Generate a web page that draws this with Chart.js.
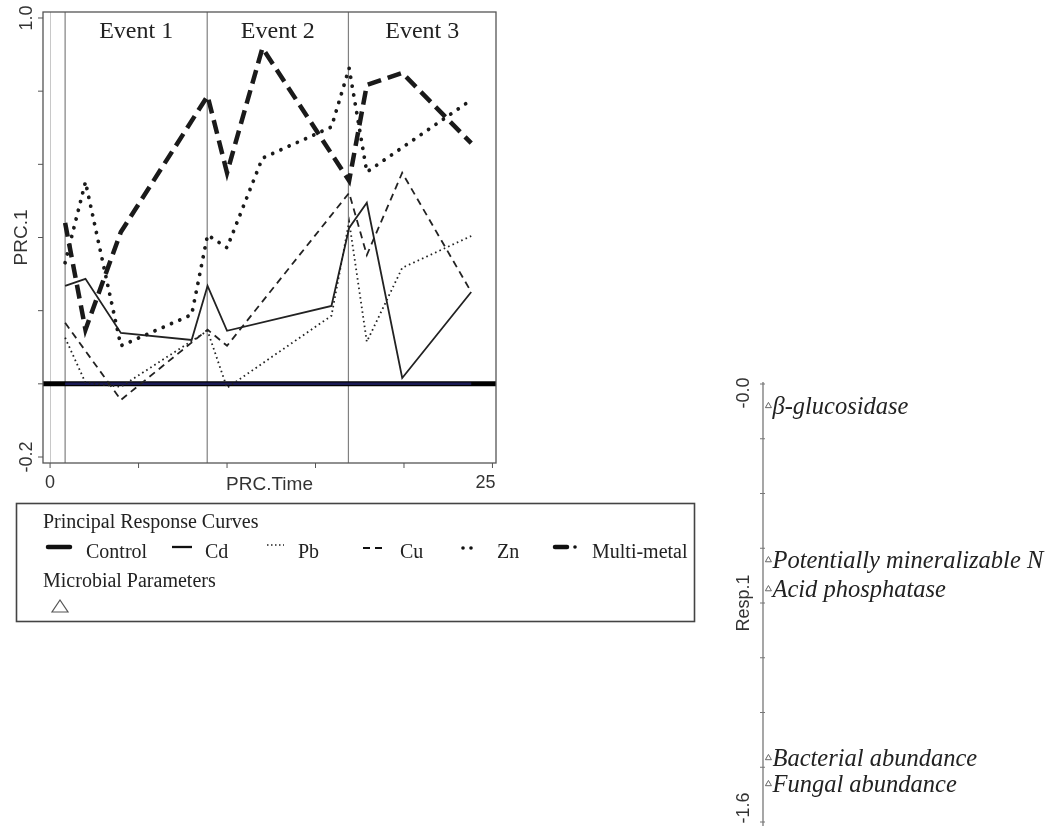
<!DOCTYPE html>
<html>
<head>
<meta charset="utf-8">
<script src="https://cdn.jsdelivr.net/npm/chart.js@4.4.0/dist/chart.umd.min.js"></script>
<style>
  body { margin: 0; background: #fff; }
  #wrap { position: relative; width: 1050px; height: 830px; }
  #prcChart { position: absolute; left: 0; top: 0; }
  #respChart { position: absolute; left: 690px; top: 360px; }
  #legend { position: absolute; left: 0; top: 490px; }
  #legend text { font-family: "Liberation Serif", "Times New Roman", serif; font-size: 20px; fill: #222; }
</style>
</head>
<body>
<div id="wrap">
  <canvas id="prcChart" width="520" height="500"></canvas>
  <canvas id="respChart" width="360" height="470"></canvas>
  <svg id="legend" width="710" height="140"></svg>
</div>
<script>
// events (PRC.Time where each event starts)
const eventNames = ["Event 1", "Event 2", "Event 3"];
const eventTimes = [0.85, 8.88, 16.86];

// principal response curves
const controlTime = [0.85, 23.8];
const controlValue = [0, 0];

const cdTime = [0.85, 2, 4, 8, 8.9, 10, 15.9, 16.9, 17.9, 19.9, 23.8];
const cdValue = [0.268, 0.287, 0.139, 0.12, 0.268, 0.145, 0.213, 0.426, 0.495, 0.016, 0.251];

const pbTime = [0.85, 2, 4, 8.9, 10, 15.9, 16.9, 17.9, 19.9, 23.8];
const pbValue = [0.126, 0.003, -0.008, 0.145, -0.011, 0.186, 0.443, 0.115, 0.317, 0.404];

const cuTime = [0.85, 4, 8.9, 10, 16.9, 17.9, 19.9, 23.8];
const cuValue = [0.167, -0.044, 0.148, 0.104, 0.522, 0.352, 0.577, 0.251];

const znTime = [0.85, 2, 4, 8, 8.9, 10, 12, 15.9, 16.9, 17.9, 23.8];
const znValue = [0.331, 0.552, 0.104, 0.189, 0.407, 0.372, 0.617, 0.702, 0.863, 0.579, 0.776];

const multiTime = [0.85, 2, 4, 8.9, 10, 12, 16.9, 17.9, 19.9, 23.8];
const multiValue = [0.44, 0.148, 0.415, 0.787, 0.577, 0.918, 0.555, 0.817, 0.85, 0.658];

// axis ticks
const timeTicks = [0, 5, 10, 15, 20, 25];
const timeTickLabels = ["0", "25"];
const prcTicks = [-0.2, 0, 0.2, 0.4, 0.6, 0.8, 1.0];
const prcTickLabels = ["-0.2", "1.0"];

// microbial parameter scores (Resp.1)
const paramNames = ["β-glucosidase", "Potentially mineralizable N", "Acid phosphatase", "Bacterial abundance", "Fungal abundance"];
const paramScores = [-0.08, -0.643, -0.749, -1.366, -1.461];
const respTicks = [0, -0.2, -0.4, -0.6, -0.8, -1.0, -1.2, -1.4, -1.6];
const respLabelValues = [-0.033, -1.549];
const respLabels = ["-0.0", "-1.6"];

const seriesNames = ["Control", "Cd", "Pb", "Cu", "Zn", "Multi-metal"];

function toPoints(xs, ys) {
  return xs.map((x, i) => ({ x: x, y: ys[i] }));
}

const SANS = '"Liberation Sans", Arial, sans-serif';
const SERIF = '"Liberation Serif", "Times New Roman", serif';

function rotatedText(ctx, text, x, y) {
  ctx.save();
  ctx.translate(x, y);
  ctx.rotate(-Math.PI / 2);
  ctx.textAlign = "center";
  ctx.textBaseline = "middle";
  ctx.fillText(text, 0, 0);
  ctx.restore();
}

const prcDecor = {
  id: "prcDecor",
  beforeDatasetsDraw(chart) {
    const { ctx, chartArea: a, scales } = chart;
    const xs = scales.x, ys = scales.y;
    ctx.save();
    // faint line at time 0
    ctx.strokeStyle = "#c8c8c8";
    ctx.lineWidth = 1;
    let x0 = Math.round(xs.getPixelForValue(0)) + 0.5;
    ctx.beginPath(); ctx.moveTo(x0, a.top); ctx.lineTo(x0, a.bottom); ctx.stroke();
    // event lines
    ctx.strokeStyle = "#808080";
    ctx.lineWidth = 1.2;
    eventTimes.forEach(t => {
      const px = xs.getPixelForValue(t);
      ctx.beginPath(); ctx.moveTo(px, a.top); ctx.lineTo(px, a.bottom); ctx.stroke();
    });
    // zero line
    ctx.strokeStyle = "#000";
    ctx.lineWidth = 5;
    const y0 = ys.getPixelForValue(0);
    ctx.beginPath(); ctx.moveTo(a.left, y0); ctx.lineTo(a.right, y0); ctx.stroke();
    ctx.restore();
  },
  afterDatasetsDraw(chart) {
    const { ctx, chartArea: a, scales } = chart;
    const xs = scales.x, ys = scales.y;
    ctx.save();
    ctx.strokeStyle = "#555";
    ctx.lineWidth = 1.3;
    ctx.strokeRect(a.left, a.top, a.right - a.left, a.bottom - a.top);

    // ticks
    ctx.lineWidth = 1;
    prcTicks.forEach(v => {
      const py = ys.getPixelForValue(v);
      ctx.beginPath(); ctx.moveTo(a.left - 5, py); ctx.lineTo(a.left, py); ctx.stroke();
    });
    timeTicks.forEach(v => {
      const px = xs.getPixelForValue(v);
      ctx.beginPath(); ctx.moveTo(px, a.bottom); ctx.lineTo(px, a.bottom + 5); ctx.stroke();
    });

    // tick labels
    ctx.fillStyle = "#333";
    ctx.font = "18px " + SANS;
    prcTickLabels.forEach(t => rotatedText(ctx, t, 27, ys.getPixelForValue(parseFloat(t))));
    ctx.textBaseline = "alphabetic";
    timeTickLabels.forEach((t, i) => {
      const px = xs.getPixelForValue(parseFloat(t));
      ctx.textAlign = i === timeTickLabels.length - 1 ? "right" : "center";
      ctx.fillText(t, i === timeTickLabels.length - 1 ? px + 3 : px, a.bottom + 25);
    });

    // axis titles
    ctx.font = "19px " + SANS;
    ctx.textAlign = "center";
    ctx.fillText("PRC.Time", (a.left + a.right) / 2, a.bottom + 27);
    rotatedText(ctx, "PRC.1", 22, (a.top + a.bottom) / 2);

    // event names
    ctx.fillStyle = "#222";
    ctx.font = "24px " + SERIF;
    eventNames.forEach((name, i) => {
      const l = xs.getPixelForValue(eventTimes[i]);
      const r = i + 1 < eventTimes.length ? xs.getPixelForValue(eventTimes[i + 1]) : a.right;
      ctx.fillText(name, (l + r) / 2, a.top + 26);
    });
    ctx.restore();
  }
};

new Chart(document.getElementById("prcChart"), {
  type: "scatter",
  data: {
    datasets: [
      { label: seriesNames[0], data: toPoints(controlTime, controlValue), borderColor: "#1b1b55", borderWidth: 2.5, order: 9 },
      { label: seriesNames[1], data: toPoints(cdTime, cdValue), borderColor: "#222", borderWidth: 1.8, order: 5 },
      { label: seriesNames[2], data: toPoints(pbTime, pbValue), borderColor: "#222", borderWidth: 1.8, borderDash: [1.6, 3.2], order: 4 },
      { label: seriesNames[3], data: toPoints(cuTime, cuValue), borderColor: "#222", borderWidth: 1.8, borderDash: [7, 5], order: 3 },
      { label: seriesNames[4], data: toPoints(znTime, znValue), borderColor: "#1a1a1a", borderWidth: 3.8, borderDash: [0.01, 9], borderCapStyle: "round", order: 2 },
      { label: seriesNames[5], data: toPoints(multiTime, multiValue), borderColor: "#1a1a1a", borderWidth: 4.5, borderDash: [14, 7], order: 1 }
    ].map(d => Object.assign({ showLine: true, pointRadius: 0, tension: 0, fill: false }, d))
  },
  options: {
    responsive: false,
    animation: false,
    devicePixelRatio: 1,
    events: [],
    layout: { padding: { left: 43, top: 12, right: 24, bottom: 37 } },
    plugins: { legend: { display: false }, tooltip: { enabled: false } },
    scales: {
      x: { type: "linear", min: -0.4, max: 25.2, display: false },
      y: { type: "linear", min: -0.2164, max: 1.0164, display: false }
    }
  },
  plugins: [prcDecor]
});

const respDecor = {
  id: "respDecor",
  beforeDatasetsDraw(chart) {
    const { ctx, chartArea: a, scales } = chart;
    const ys = scales.y;
    ctx.save();
    ctx.strokeStyle = "#777";
    ctx.lineWidth = 1.3;
    ctx.beginPath(); ctx.moveTo(a.left, a.top - 2); ctx.lineTo(a.left, a.bottom + 4); ctx.stroke();
    ctx.lineWidth = 1;
    respTicks.forEach(v => {
      const py = ys.getPixelForValue(v);
      ctx.beginPath(); ctx.moveTo(a.left - 3, py); ctx.lineTo(a.left + 2, py); ctx.stroke();
    });
    ctx.fillStyle = "#333";
    ctx.font = "18px " + SANS;
    respLabels.forEach((t, i) => rotatedText(ctx, t, a.left - 19, ys.getPixelForValue(respLabelValues[i])));
    rotatedText(ctx, "Resp.1", a.left - 19, (a.top + a.bottom) / 2);
    ctx.restore();
  },
  afterDatasetsDraw(chart) {
    const { ctx } = chart;
    const meta = chart.getDatasetMeta(0);
    ctx.save();
    ctx.fillStyle = "#222";
    ctx.font = "italic 24.5px " + SERIF;
    ctx.textAlign = "left";
    ctx.textBaseline = "alphabetic";
    meta.data.forEach((pt, i) => {
      ctx.fillText(paramNames[i], pt.x + 4, pt.y + 8);
    });
    ctx.restore();
  }
};

new Chart(document.getElementById("respChart"), {
  type: "scatter",
  data: {
    datasets: [{
      label: "Microbial Parameters",
      data: paramScores.map(s => ({ x: 0, y: s })),
      pointStyle: "triangle",
      pointRadius: 3.5,
      borderColor: "#666",
      backgroundColor: "#fff",
      borderWidth: 1
    }]
  },
  options: {
    responsive: false,
    animation: false,
    devicePixelRatio: 1,
    events: [],
    layout: { padding: { left: 73, top: 24, right: 10, bottom: 8 } },
    plugins: { legend: { display: false }, tooltip: { enabled: false } },
    scales: {
      x: { type: "linear", min: -0.02, max: 1, display: false },
      y: { type: "linear", min: -1.6, max: 0, display: false }
    }
  },
  plugins: [respDecor]
});

// legend box (coordinates relative to the svg, which sits at top 490)
const svgNS = "http://www.w3.org/2000/svg";
const legend = document.getElementById("legend");
function el(name, attrs, text) {
  const e = document.createElementNS(svgNS, name);
  Object.keys(attrs).forEach(k => e.setAttribute(k, attrs[k]));
  if (text) e.textContent = text;
  legend.appendChild(e);
  return e;
}
el("rect", { x: 16.5, y: 13.5, width: 678, height: 118, fill: "none", stroke: "#444", "stroke-width": 1.6 });
el("text", { x: 43, y: 38 }, "Principal Response Curves");
el("text", { x: 43, y: 97 }, "Microbial Parameters");
el("polygon", { points: "52,122 68,122 60,110", fill: "none", stroke: "#555", "stroke-width": 1.2 });

const rowY = 57;
const textX = [86, 205, 298, 400, 497, 592];
seriesNames.forEach((name, i) => el("text", { x: textX[i], y: rowY + 11 }, name));
el("line", { x1: 48, y1: rowY, x2: 70, y2: rowY, stroke: "#111", "stroke-width": 4.5, "stroke-linecap": "round" });
el("line", { x1: 172, y1: rowY, x2: 192, y2: rowY, stroke: "#111", "stroke-width": 2.3 });
el("line", { x1: 267, y1: rowY - 2, x2: 284, y2: rowY - 2, stroke: "#222", "stroke-width": 1.5, "stroke-dasharray": "1.5 2.5" });
el("line", { x1: 363, y1: rowY + 1, x2: 383, y2: rowY + 1, stroke: "#111", "stroke-width": 2, "stroke-dasharray": "7 5" });
el("circle", { cx: 463, cy: rowY + 1, r: 1.8, fill: "#111" });
el("circle", { cx: 471, cy: rowY + 1, r: 1.8, fill: "#111" });
el("line", { x1: 555, y1: rowY, x2: 567, y2: rowY, stroke: "#111", "stroke-width": 4.5, "stroke-linecap": "round" });
el("circle", { cx: 575, cy: rowY, r: 1.8, fill: "#111" });
</script>
</body>
</html>
